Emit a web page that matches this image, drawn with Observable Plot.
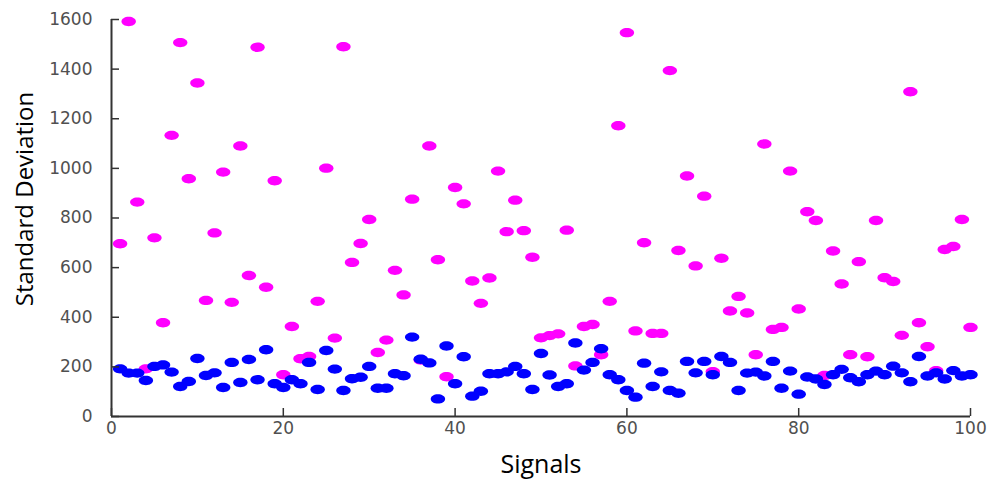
<!DOCTYPE html>
<html>
<head>
<meta charset="utf-8">
<script src="https://cdn.jsdelivr.net/npm/d3@7"></script>
<script src="https://cdn.jsdelivr.net/npm/@observablehq/plot@0.6"></script>
<style>
  html, body { margin: 0; padding: 0; background: #fff; }
</style>
</head>
<body>
<div id="chart"></div>
<script>
// ---- data ----
const signals = d3.range(1, 101);
const magentaValues = [
  696,1592,864,192,720,378,1133,1507,958,1344,
  468,740,985,460,1090,568,1488,521,950,168,
  363,233,242,464,1001,316,1490,621,697,794,
  258,308,589,490,876,228,1090,632,160,923,
  857,546,456,558,989,745,872,749,642,317,
  326,333,751,204,363,371,249,464,1172,1547,
  345,700,335,335,1394,669,969,607,888,181,
  638,425,484,417,249,1098,351,359,989,433,
  825,790,165,667,534,249,624,241,790,559,
  544,327,1309,378,281,185,673,685,794,359
];
const blueValues = [
  192,175,175,145,202,208,179,121,141,234,
  165,176,117,218,137,230,148,269,132,117,
  148,132,218,109,266,191,105,152,158,202,
  114,114,172,164,320,231,216,71,284,132,
  241,82,102,172,172,180,202,172,109,254,
  167,121,132,296,187,218,273,168,148,105,
  78,215,121,180,105,94,222,176,222,168,
  242,218,105,175,179,163,222,114,183,90,
  159,151,129,168,190,156,140,168,183,168,
  203,176,140,242,163,176,151,185,163,168
];
const xTicks = [0, 20, 40, 60, 80, 100];
const yTicks = [0, 200, 400, 600, 800, 1000, 1200, 1400, 1600];
const xLabel = "Signals";
const yLabel = "Standard Deviation";

const magentaRows = signals.map((s, i) => ({signal: s, sd: magentaValues[i]}));
const blueRows = signals.map((s, i) => ({signal: s, sd: blueValues[i]}));

// elliptical marker (the reference dots are wider than tall)
const ellipse = {
  draw(ctx) {
    const rx = 7.2, ry = 4.7, k = 0.5523;
    ctx.moveTo(rx, 0);
    ctx.bezierCurveTo(rx, ry * k, rx * k, ry, 0, ry);
    ctx.bezierCurveTo(-rx * k, ry, -rx, ry * k, -rx, 0);
    ctx.bezierCurveTo(-rx, -ry * k, -rx * k, -ry, 0, -ry);
    ctx.bezierCurveTo(rx * k, -ry, rx, -ry * k, rx, 0);
    ctx.closePath();
  }
};

const tickFont = "'DejaVu Sans', sans-serif";
const labelFont = "'Open Sans', sans-serif";
const plain = d => String(d);

const chart = Plot.plot({
  width: 996,
  height: 481,
  marginLeft: 111,
  marginRight: 26,
  marginTop: 19,
  marginBottom: 65,
  style: {background: "#fff", overflow: "visible"},
  x: {domain: [0, 100]},
  y: {domain: [0, 1600]},
  marks: [
    Plot.dot(magentaRows, {x: "signal", y: "sd", symbol: ellipse, fill: "#ff00ff", stroke: "none"}),
    Plot.dot(blueRows, {x: "signal", y: "sd", symbol: ellipse, fill: "#0000ff", stroke: "none"}),
    Plot.axisY(yTicks, {tickSize: -8, tickPadding: 27, tickFormat: plain, stroke: "#333", strokeWidth: 1.5,
      fontSize: 17, fontFamily: tickFont, fill: "#505050", label: null}),
    Plot.axisX(xTicks, {tickSize: -8, tickPadding: 13, tickFormat: plain, stroke: "#333", strokeWidth: 1.5,
      fontSize: 17, fontFamily: tickFont, fill: "#505050", label: null}),
    Plot.ruleX([0], {stroke: "#333", strokeWidth: 2}),
    Plot.ruleY([0], {stroke: "#333", strokeWidth: 2}),
    Plot.text([yLabel], {frameAnchor: "left", textAnchor: "middle", text: d => d, rotate: -90, dx: -86, dy: -19,
      fontSize: 24, fontFamily: labelFont, fill: "#000"}),
    Plot.text([xLabel], {frameAnchor: "bottom", textAnchor: "middle", text: d => d, dy: 56,
      fontSize: 25, fontFamily: labelFont, fill: "#000"})
  ]
});
document.getElementById("chart").appendChild(chart);
</script>
</body>
</html>
